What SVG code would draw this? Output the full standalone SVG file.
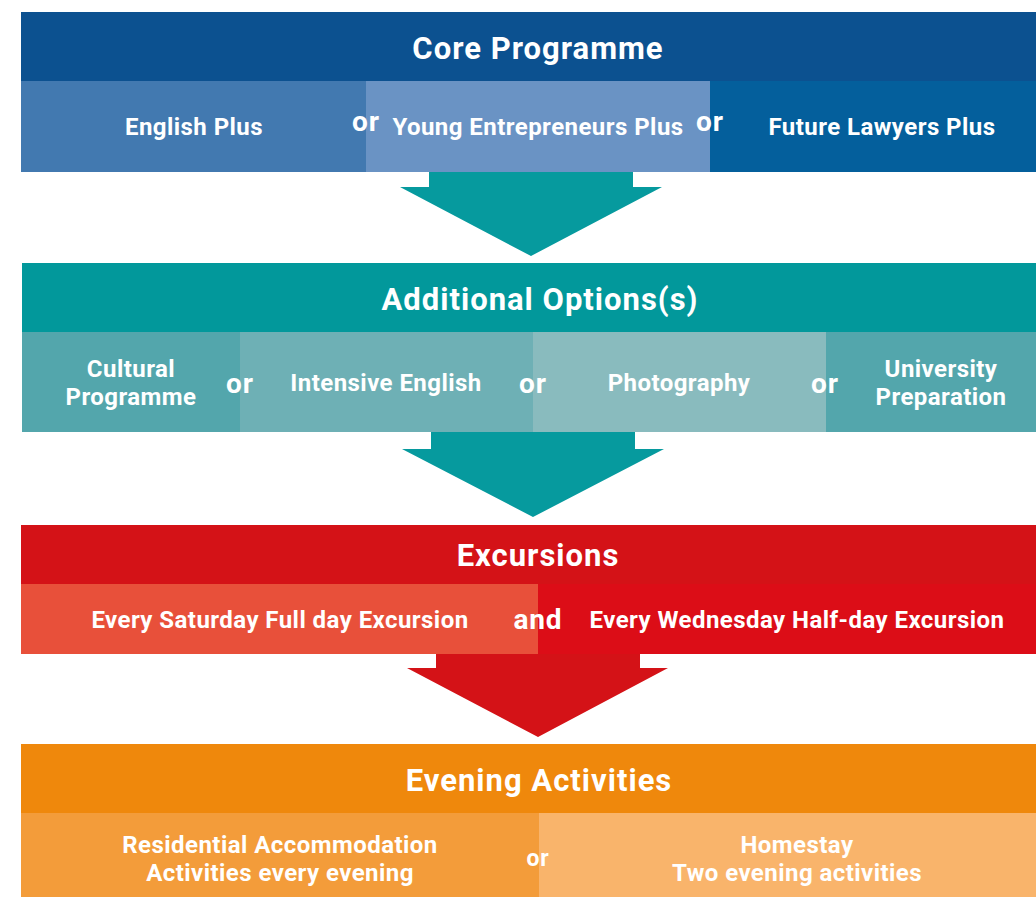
<svg xmlns="http://www.w3.org/2000/svg" width="1036" height="897" viewBox="0 0 1036 897">
<style>
text{font-family:Roboto,"Liberation Sans",sans-serif;font-weight:700;fill:#fff;text-anchor:middle}
.t{font-size:31px;letter-spacing:1px}
.s{font-size:24px;letter-spacing:0.45px}
.o{font-size:28px;letter-spacing:1px}
.a{font-size:28px;letter-spacing:0.8px}
.o2{font-size:23px;letter-spacing:0.8px}
</style>
<rect width="1036" height="897" fill="#fff"/>
<g id="core">
<rect x="21" y="12" width="1015" height="69" fill="#0c5190"/>
<text class="t" x="538" y="59">Core Programme</text>
</g>
<g id="english-plus"><rect x="21" y="81" width="345" height="91" fill="#4279b0"/><text class="s" x="194" y="135">English Plus</text></g>
<g id="young-entrepreneurs"><rect x="366" y="81" width="344" height="91" fill="#6a93c4"/><text class="s" x="538" y="135">Young Entrepreneurs Plus</text></g>
<g id="future-lawyers"><rect x="710" y="81" width="326" height="91" fill="#045f9c"/><text class="s" x="882" y="135">Future Lawyers Plus</text></g>
<text class="o" x="366" y="131">or</text>
<text class="o" x="710" y="131">or</text>

<g id="additional">
<rect x="22" y="263" width="1014" height="69" fill="#02989b"/>
<text class="t" x="540" y="310">Additional Options(s)</text>
</g>
<g id="cultural"><rect x="22" y="332" width="218" height="100" fill="#53a6ac"/><text class="s" x="131" y="377">Cultural</text><text class="s" x="131" y="405">Programme</text></g>
<g id="intensive"><rect x="240" y="332" width="293" height="100" fill="#6eb0b5"/><text class="s" x="386" y="391">Intensive English</text></g>
<g id="photography"><rect x="533" y="332" width="293" height="100" fill="#89bbbe"/><text class="s" x="679" y="391">Photography</text></g>
<g id="university"><rect x="826" y="332" width="210" height="100" fill="#53a6ac"/><text class="s" x="941" y="377">University</text><text class="s" x="941" y="405">Preparation</text></g>
<text class="o" x="240" y="393">or</text>
<text class="o" x="533" y="393">or</text>
<text class="o" x="825" y="393">or</text>

<g id="excursions">
<rect x="21" y="525" width="1015" height="59" fill="#d41217"/>
<text class="t" x="538" y="566">Excursions</text>
</g>
<g id="saturday"><rect x="21" y="584" width="517" height="70" fill="#e8503a"/><text class="s" x="280" y="628">Every Saturday Full day Excursion</text></g>
<g id="wednesday"><rect x="538" y="584" width="498" height="70" fill="#dc0d17"/><text class="s" x="797" y="628">Every Wednesday Half-day Excursion</text></g>
<text class="a" x="538" y="629">and</text>

<g id="evening">
<rect x="21" y="744" width="1015" height="69" fill="#ef880c"/>
<text class="t" x="539" y="791">Evening Activities</text>
</g>
<g id="residential"><rect x="21" y="813" width="518" height="84" fill="#f39c3a"/><text class="s" x="280" y="853">Residential Accommodation</text><text class="s" x="280" y="881">Activities every evening</text></g>
<g id="homestay"><rect x="539" y="813" width="497" height="84" fill="#f9b46b"/><text class="s" x="797" y="853">Homestay</text><text class="s" x="797" y="881">Two evening activities</text></g>
<text class="o2" x="538" y="866">or</text>

<g id="connectors">
<polygon points="429,172 633,172 633,187 662,187 531,256 400,187 429,187" fill="#069a9e"/>
<polygon points="431,432 635,432 635,449 664,449 533,517 402,449 431,449" fill="#069a9e"/>
<polygon points="436,654 640,654 640,668 668,668 538,737 407,668 436,668" fill="#d41217"/>
</g>
</svg>
